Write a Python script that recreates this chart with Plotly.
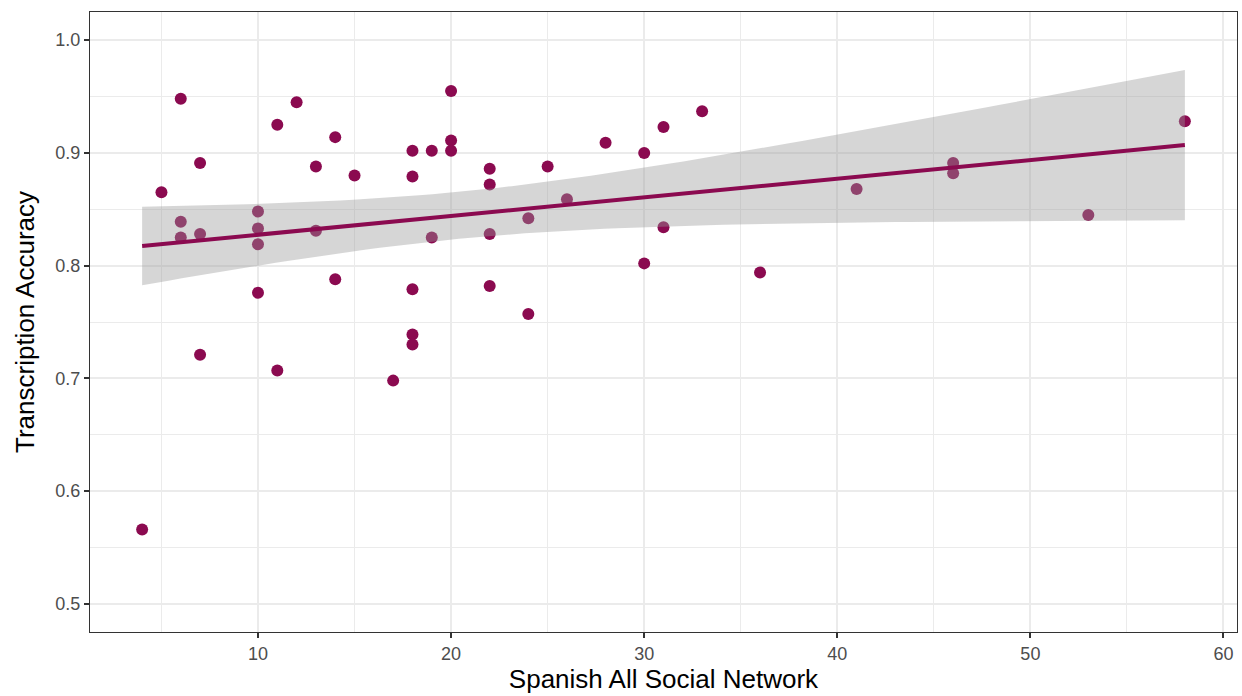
import numpy as np
import plotly.graph_objects as go

network = [4, 5, 6, 6, 6, 7, 7, 7, 10, 10, 10, 10, 11, 11, 12, 13, 13, 14, 14, 15,
           17, 18, 18, 18, 18, 18, 19, 19, 20, 20, 20, 22, 22, 22, 22, 24, 24, 25, 26,
           28, 30, 30, 31, 31, 33, 36, 41, 46, 46, 53, 58]
accuracy = [0.566, 0.865, 0.948, 0.839, 0.825, 0.891, 0.828, 0.721, 0.848, 0.833, 0.819, 0.776,
            0.925, 0.707, 0.945, 0.888, 0.831, 0.914, 0.788, 0.880,
            0.698, 0.902, 0.879, 0.779, 0.739, 0.730, 0.902, 0.825, 0.955, 0.911, 0.902,
            0.886, 0.872, 0.828, 0.782, 0.842, 0.757, 0.888, 0.859,
            0.909, 0.900, 0.802, 0.923, 0.834, 0.937, 0.794, 0.868, 0.891, 0.882, 0.845, 0.928]

x = np.array(network, dtype=float)
y = np.array(accuracy, dtype=float)
n = len(x)
b1, b0 = np.polyfit(x, y, 1)
xs = np.linspace(x.min(), x.max(), 80)
ys = b0 + b1 * xs
resid = y - (b0 + b1 * x)
s = np.sqrt(np.sum(resid ** 2) / (n - 2))
sxx = np.sum((x - x.mean()) ** 2)
se = s * np.sqrt(1.0 / n + (xs - x.mean()) ** 2 / sxx)
tq = 2.0096  # t quantile 0.975, df=49
lo = ys - tq * se
hi = ys + tq * se

col = "#8B0A50"
fig = go.Figure()
fig.add_trace(go.Scatter(x=x, y=y, mode="markers",
                         marker=dict(color=col, size=12, line=dict(width=0)),
                         showlegend=False, hoverinfo="skip"))
fig.add_trace(go.Scatter(x=np.concatenate([xs, xs[::-1]]), y=np.concatenate([hi, lo[::-1]]),
                         mode="lines", fill="toself", fillcolor="rgba(153,153,153,0.4)",
                         line=dict(width=0), showlegend=False, hoverinfo="skip"))
fig.add_trace(go.Scatter(x=xs, y=ys, mode="lines", line=dict(color=col, width=4),
                         showlegend=False, hoverinfo="skip"))

grid = "#EBEBEB"
axis_common = dict(showline=True, mirror=True, linecolor="#333333", linewidth=1.2,
                   ticks="outside", ticklen=5, tickwidth=1.5, tickcolor="#333333",
                   gridcolor=grid, gridwidth=2, zeroline=False,
                   tickfont=dict(family="Liberation Sans, Arial, sans-serif", size=18, color="#4D4D4D"))
fig.update_layout(
    width=1242, height=696,
    margin=dict(l=90, r=5, t=12, b=64),
    paper_bgcolor="white", plot_bgcolor="white",
    font=dict(family="Liberation Sans, Arial, sans-serif"),
    xaxis=dict(range=[1.3, 60.7], tick0=0, dtick=10,
               minor=dict(tick0=5, dtick=10, showgrid=True, gridcolor=grid, gridwidth=1, ticks=""),
               title=dict(text="Spanish All Social Network", standoff=6,
                          font=dict(size=26, color="black")),
               **axis_common),
    yaxis=dict(range=[0.475, 1.025], tick0=0.5, dtick=0.1, tickformat=".1f",
               minor=dict(tick0=0.55, dtick=0.1, showgrid=True, gridcolor=grid, gridwidth=1, ticks=""),
               title=dict(text="Transcription Accuracy", standoff=13,
                          font=dict(size=26, color="black")),
               **axis_common),
)
fig.write_html("out.html")
